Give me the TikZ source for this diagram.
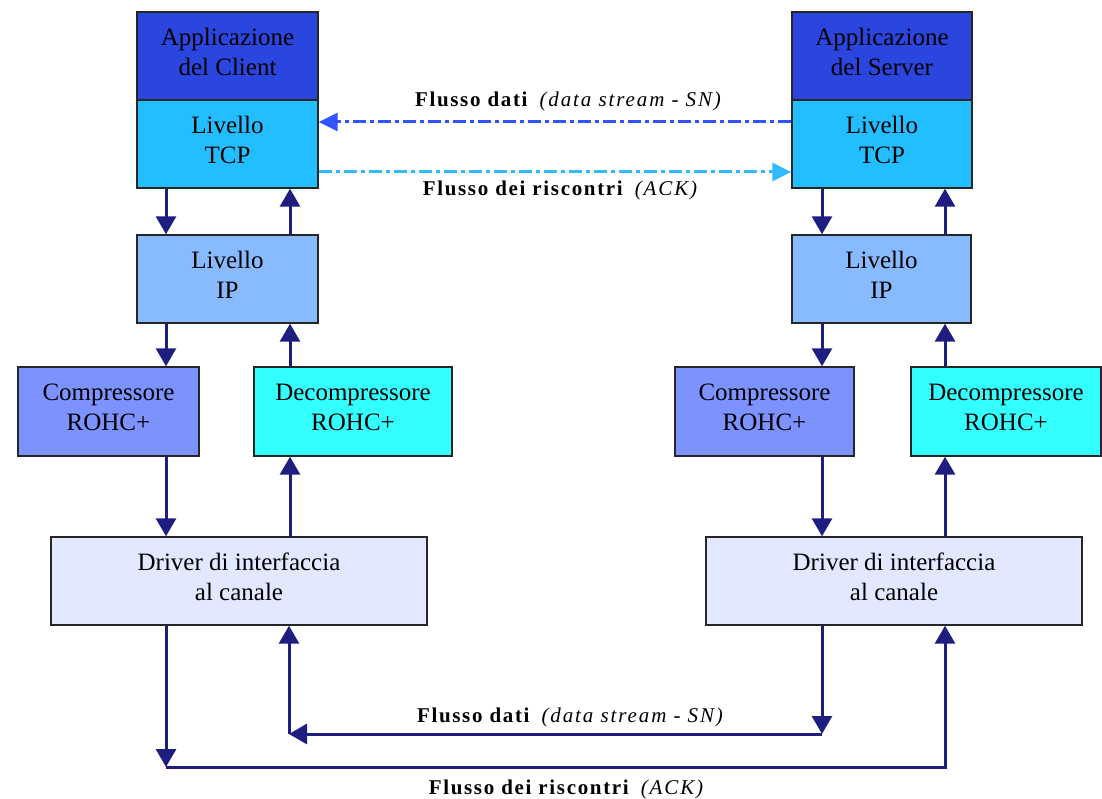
\documentclass[tikz,border=0pt]{standalone}
\usepackage{fontspec}
\setmainfont{Liberation Serif}
\newfontfamily\lblfont[LetterSpace=8]{Liberation Serif}
\newfontfamily\lblit[LetterSpace=9]{Liberation Serif}
\usetikzlibrary{arrows.meta}
\definecolor{appc}{RGB}{42,70,222}
\definecolor{tcpc}{RGB}{34,190,255}
\definecolor{ipc}{RGB}{136,186,255}
\definecolor{compc}{RGB}{124,146,255}
\definecolor{decc}{RGB}{52,255,255}
\definecolor{drvc}{RGB}{226,232,255}
\definecolor{navy}{RGB}{30,30,128}
\definecolor{datac}{RGB}{48,84,255}
\definecolor{ackc}{RGB}{50,186,255}
\begin{document}
\begin{tikzpicture}[x=1pt,y=-1pt,
  box/.style={draw=black!85,line width=1.4pt,minimum height=88pt,inner sep=0pt,
    align=center,font=\fontsize{25}{30}\selectfont,text depth=9pt},
  arr/.style={draw=navy,line width=3pt,-{Triangle[width=20pt,length=18pt]}},
  ddot/.style={line width=3pt,dash pattern=on 13pt off 4pt on 4pt off 4pt,
    -{Triangle[width=18pt,length=19pt]}},
  lbl/.style={inner sep=0pt,font=\fontsize{21}{23}\selectfont}]
\useasboundingbox[fill=white] (0,0) rectangle (1102,799);
% client stack
\node[box,fill=appc,minimum width=181pt] (capp) at (227.5,56) {Applicazione\\del Client};
\node[box,fill=tcpc,minimum width=181pt] (ctcp) at (227.5,144) {Livello\\TCP};
\node[box,fill=ipc,minimum width=181pt] (cip) at (227.5,279) {Livello\\IP};
\node[box,fill=compc,minimum width=181pt,minimum height=89pt] (ccomp) at (108.5,411.5) {Compressore\\ROHC+};
\node[box,fill=decc,minimum width=198pt,minimum height=89pt] (cdec) at (353,411.5) {Decompressore\\ROHC+};
\node[box,fill=drvc,minimum width=376pt] (cdrv) at (239,581) {Driver di interfaccia\\al canale};
% server stack
\node[box,fill=appc,minimum width=180pt] (sapp) at (882,56) {Applicazione\\del Server};
\node[box,fill=tcpc,minimum width=180pt] (stcp) at (882,144) {Livello\\TCP};
\node[box,fill=ipc,minimum width=179pt] (sip) at (881.5,279) {Livello\\IP};
\node[box,fill=compc,minimum width=179pt,minimum height=89pt] (scomp) at (764.5,411.5) {Compressore\\ROHC+};
\node[box,fill=decc,minimum width=190pt,minimum height=89pt] (sdec) at (1006,411.5) {Decompressore\\ROHC+};
\node[box,fill=drvc,minimum width=376pt] (sdrv) at (894,581) {Driver di interfaccia\\al canale};
% x positions of vertical connectors
\coordinate (xL) at (166,0);
\coordinate (xR) at (290,0);
\coordinate (xSL) at (822,0);
\coordinate (xSR) at (945,0);
% client vertical arrows
\draw[arr] (ctcp.south -| xL) -- (cip.north -| xL);
\draw[arr] (cip.north -| xR) -- (ctcp.south -| xR);
\draw[arr] (cip.south -| xL) -- (ccomp.north -| xL);
\draw[arr] (cdec.north -| xR) -- (cip.south -| xR);
\draw[arr] (ccomp.south -| xL) -- (cdrv.north -| xL);
\draw[arr] (cdrv.north -| xR) -- (cdec.south -| xR);
% server vertical arrows
\draw[arr] (stcp.south -| xSL) -- (sip.north -| xSL);
\draw[arr] (sip.north -| xSR) -- (stcp.south -| xSR);
\draw[arr] (sip.south -| xSL) -- (scomp.north -| xSL);
\draw[arr] (sdec.north -| xSR) -- (sip.south -| xSR);
\draw[arr] (scomp.south -| xSL) -- (sdrv.north -| xSL);
\draw[arr] (sdrv.north -| xSR) -- (sdec.south -| xSR);
% top flows
\draw[ddot,draw=datac] ([yshift=22pt]stcp.west) -- ([yshift=22pt]ctcp.east);
\draw[ddot,draw=ackc] ([yshift=-28pt]ctcp.east) -- ([yshift=-28pt]stcp.west);
\node[lbl] (tdata) at (568,101) {{\lblfont\bfseries Flusso dati}\hspace{12pt}{\lblit\itshape (data stream - SN)}};
\node[lbl] (tack) at (560,190) {{\lblfont\bfseries Flusso dei riscontri}\hspace{12pt}{\lblit\itshape (ACK)}};
% bottom flows
\coordinate (datR) at (822,734);
\coordinate (datL) at (289,734);
\coordinate (ackL) at (166,767);
\coordinate (ackR) at (945,767);
\draw[arr] (sdrv.south -| datR) -- (datR);
\draw[arr] (datR) -- (datL);
\draw[arr] (datL) -- (cdrv.south -| datL);
\draw[arr] (cdrv.south -| ackL) -- (ackL);
\draw[arr] (ackL) -- (ackR) -- (sdrv.south -| ackR);
\node[lbl] (bdata) at (570,717) {{\lblfont\bfseries Flusso dati}\hspace{12pt}{\lblit\itshape (data stream - SN)}};
\node[lbl] (back) at (566,789) {{\lblfont\bfseries Flusso dei riscontri}\hspace{12pt}{\lblit\itshape (ACK)}};
\end{tikzpicture}
\end{document}
